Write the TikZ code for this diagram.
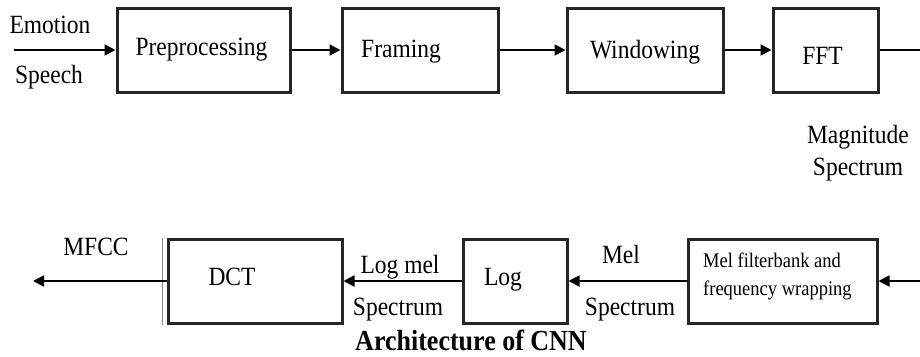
\documentclass[tikz,border=0pt]{standalone}
\usepackage{fontspec}
\setmainfont{Liberation Serif}
\usepackage{graphicx}
\usetikzlibrary{arrows.meta}
\newcommand{\tallt}[1]{\scalebox{1}[1.12]{#1}}
\begin{document}
\begin{tikzpicture}[x=1pt,y=-1pt,
 blk/.style={draw=black!85,line width=3pt,minimum height=84pt,inner sep=0pt},
 lbl/.style={font=\fontsize{23.5}{26}\selectfont,inner sep=0pt,anchor=base},
 small/.style={font=\fontsize{18.5}{22}\selectfont,inner sep=0pt,anchor=base west},
 flow/.style={line width=1.8pt,-{Triangle[length=11pt,width=11pt]}},
 wire/.style={line width=1.8pt},
]
\useasboundingbox (0,0) rectangle (920,356);
% boxes
\node[blk,minimum width=173pt] (pre) at (203.5,50) {};
\node[blk,minimum width=156pt] (fra) at (420,50) {};
\node[blk,minimum width=156pt] (win) at (645,50) {};
\node[blk,minimum width=105pt] (fft) at (825.5,50) {};
\node[blk,minimum width=174pt] (dct) at (255,281) {};
\node[blk,minimum width=104pt] (log) at (515,281) {};
\node[blk,minimum width=189pt] (mel) at (782.5,281) {};
\draw[line width=1pt,black!45] ([xshift=-4pt]dct.north west) -- ([xshift=-4pt]dct.south west);
% texts
\node[lbl] (tpre) at (201.5,55) {\tallt{Preprocessing}};
\node[lbl] (tfra) at (401,57) {\tallt{Framing}};
\node[lbl] (twin) at (645,58) {\tallt{Windowing}};
\node[lbl] (tfft) at (822.5,64) {\tallt{FFT}};
\node[lbl] (emo) at (50,33) {\tallt{Emotion}};
\node[lbl] (spe) at (49,83) {\tallt{Speech}};
\node[lbl] (mag) at (858,143) {\tallt{Magnitude}};
\node[lbl] (magspec) at (858,175) {\tallt{Spectrum}};
\node[lbl] (mfcc) at (96,255) {\tallt{MFCC}};
\node[lbl] (tdct) at (232,285) {\tallt{DCT}};
\node[lbl] (logmel) at (400,273) {\tallt{Log mel}};
\node[lbl] (lspec) at (398,315) {\tallt{Spectrum}};
\node[lbl] (tlog) at (503,285) {\tallt{Log}};
\node[lbl] (tmel) at (621,263) {\tallt{Mel}};
\node[lbl] (melspec) at (630,315) {\tallt{Spectrum}};
\node[small] (tmel1) at (703,267) {\tallt{Mel filterbank and}};
\node[small] (tmel2) at (703,295) {\tallt{frequency wrapping}};
\node[font=\bfseries\fontsize{26}{30}\selectfont,anchor=base,inner sep=0pt] (title) at (471,350) {\tallt{Architecture of CNN}};
% connectors
\coordinate (in) at (14,50);
\coordinate (outr) at (920,50);
\coordinate (inr) at (920,281);
\coordinate (out) at (33,281);
\draw[flow] (in) -- (pre.west);
\draw[flow] (pre.east) -- (fra.west);
\draw[flow] (fra.east) -- (win.west);
\draw[flow] (win.east) -- (fft.west);
\draw[wire] (fft.east) -- (outr);
\draw[flow] (inr) -- (mel.east);
\draw[flow] (mel.west) -- (log.east);
\draw[flow] (log.west) -- (dct.east);
\draw[flow] (dct.west) -- (out);
\end{tikzpicture}
\end{document}
